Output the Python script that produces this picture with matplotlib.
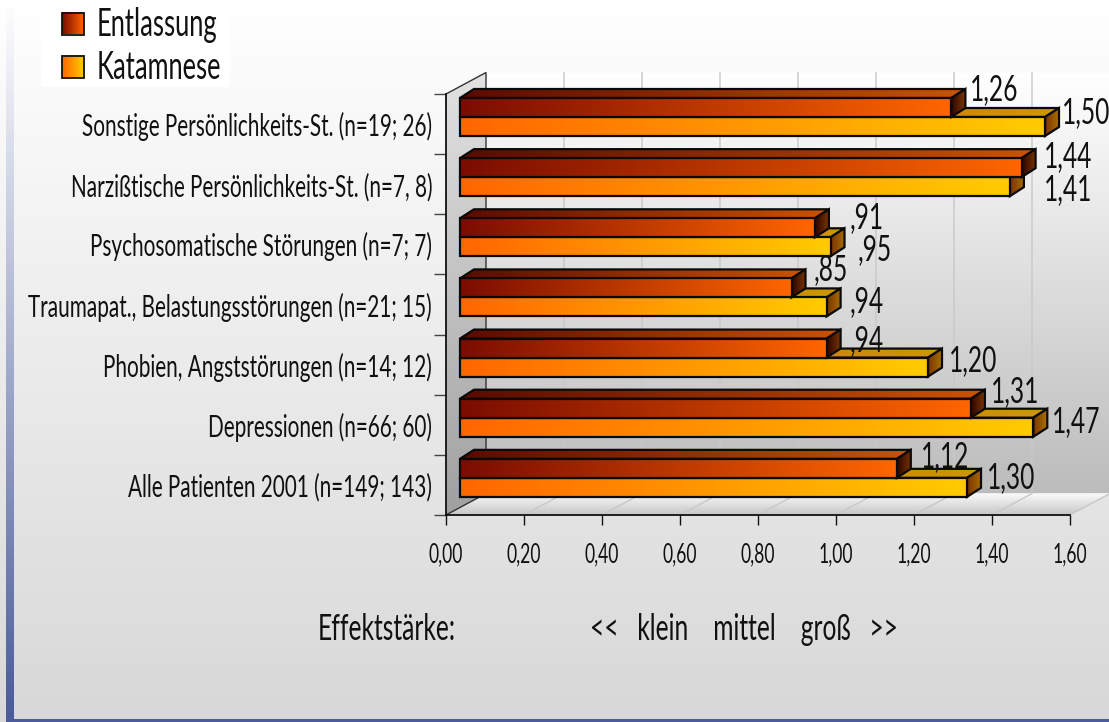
import numpy as np
import matplotlib
matplotlib.use("Agg")
import matplotlib.pyplot as plt
from matplotlib import font_manager as fm
from matplotlib.patches import Polygon, Rectangle
from matplotlib.colors import LinearSegmentedColormap as LSC

categories = ["Sonstige Persönlichkeits-St. (n=19; 26)",
              "Narzißtische Persönlichkeits-St. (n=7, 8)",
              "Psychosomatische Störungen (n=7; 7)",
              "Traumapat., Belastungsstörungen (n=21; 15)",
              "Phobien, Angststörungen (n=14; 12)",
              "Depressionen (n=66; 60)",
              "Alle Patienten 2001 (n=149; 143)"]
entlassung = [1.26, 1.44, 0.91, 0.85, 0.94, 1.31, 1.12]
katamnese = [1.50, 1.41, 0.95, 0.94, 1.20, 1.47, 1.30]
labels_e = ["1,26", "1,44", ",91", ",85", ",94", "1,31", "1,12"]
labels_k = ["1,50", "1,41", ",95", ",94", "1,20", "1,47", "1,30"]
xticks = [0.0, 0.2, 0.4, 0.6, 0.8, 1.0, 1.2, 1.4, 1.6]
xticklabels = ["0,00", "0,20", "0,40", "0,60", "0,80", "1,00", "1,20", "1,40", "1,60"]

# label offsets from the bar end (pixels)
off_e = [(19, 17), (22, 10), (35, 9), (22, 17), (23, 7), (20, 16), (24, 11)]
off_k = [(17, 13), (34, -4), (27, -4), (23, 4), (21, 6), (19, 5), (20, 9)]

W, H = 1109, 722
NARROW = 0.68


def make_narrow_font(scale):
    """Write a horizontally condensed copy of an installed sans font."""
    from fontTools.ttLib import TTFont
    from fontTools.ttLib.tables._g_l_y_f import GlyphCoordinates
    cands = []
    for f in fm.fontManager.ttflist:
        w = f.weight if isinstance(f.weight, int) else 400
        if f.style == "normal" and f.fname.lower().endswith(".ttf"):
            for rank, nm in enumerate(["Lato", "Roboto", "Open Sans", "Liberation Sans"]):
                if f.name == nm:
                    cands.append((rank, abs(w - 400), f.fname))
    for _, _, path in sorted(cands):
        try:
            font = TTFont(path)
            if "glyf" not in font:
                continue
            glyf = font["glyf"]
            for name in glyf.keys():
                g = glyf[name]
                if g.isComposite():
                    for c in g.components:
                        c.x = int(round(c.x * scale))
                elif g.numberOfContours > 0:
                    g.coordinates = GlyphCoordinates([(int(round(x * scale)), y) for x, y in g.coordinates])
                    if hasattr(g, "program"):
                        g.program.fromBytecode(b"")
            for name in glyf.keys():
                g = glyf[name]
                if g.numberOfContours != 0:
                    g.recalcBounds(glyf)
            hmtx = font["hmtx"]
            for name, (adv, lsb) in list(hmtx.metrics.items()):
                hmtx.metrics[name] = (int(round(adv * scale)), int(round(lsb * scale)))
            for tag in ["gvar", "fvar", "HVAR", "MVAR", "STAT", "avar", "GPOS", "GSUB", "GDEF",
                        "fpgm", "prep", "cvt ", "kern", "hdmx", "VDMX", "LTSH", "DSIG", "cvar"]:
                if tag in font:
                    del font[tag]
            for rec in font["name"].names:
                if rec.nameID in (1, 16, 4, 6):
                    rec.string = "ChartNarrow"
                elif rec.nameID in (2, 17):
                    rec.string = "Regular"
            font.save("chartnarrow.ttf")
            fm.fontManager.addfont("chartnarrow.ttf")
            return "ChartNarrow"
        except Exception:
            continue
    return "DejaVu Sans"


FONTNAME = make_narrow_font(NARROW)
plt.rcParams["font.family"] = [FONTNAME, "DejaVu Sans"]
INK = "#111111"

fig = plt.figure(figsize=(W / 100, H / 100), dpi=100)

# page background, in pixel coordinates
bg = fig.add_axes([0, 0, 1, 1], zorder=0)
bg.set_xlim(0, W); bg.set_ylim(H, 0); bg.axis("off")
cm_bg = LSC.from_list("bg", ["#ffffff", "#d8d8d8"])
bg.imshow(np.linspace(0, 1, 256)[:, None], cmap=cm_bg, extent=(0, W, H, 0), aspect="auto", origin="upper")
cm_st = LSC.from_list("st", ["#ffffff", "#4a5a9a"])
bg.imshow(np.linspace(0, 1, 256)[:, None], cmap=cm_st, extent=(6, 14, H, 0), aspect="auto", origin="upper")
bg.add_patch(Rectangle((6, 718.5), W, 4, fc="#4a5a9a", ec="none"))
bg.set_xlim(0, W); bg.set_ylim(H, 0)

# legend, pixel coordinates
bg.add_patch(Rectangle((41, 0), 189, 87, fc="white", ec="none"))
def swatch(y, c0, c1):
    bg.imshow(np.linspace(0, 1, 64)[None, :], cmap=LSC.from_list("s", [c0, c1]),
              extent=(62, 84, y + 22, y), aspect="auto", zorder=3)
    bg.add_patch(Rectangle((62, y), 22, 22, fc="none", ec="#111111", lw=1.3, zorder=4))
swatch(12.5, "#7a0c00", "#ff6600")
swatch(55.5, "#ff6600", "#ffcc00")
bg.set_xlim(0, W); bg.set_ylim(H, 0)
bg.text(97, 25, "Entlassung", fontsize=27, va="center", ha="left", color=INK)
bg.text(97, 68, "Katamnese", fontsize=27, va="center", ha="left", color=INK)
bg.text(318, 630, "Effektstärke:", fontsize=26, va="center", ha="left", color=INK)
bg.text(590, 630, "<<   klein    mittel    groß   >>", fontsize=26, va="center", ha="left", color=INK)

# chart axes: front plane of the 3D box
L, R, T, B = 446, 1070, 94, 515
ax = fig.add_axes([L / W, 1 - B / H, (R - L) / W, (B - T) / H], zorder=1)
ax.patch.set_alpha(0)
xlim = (0, 1.6); ylim = (0, 7)
px = (R - L) / 1.6      # pixels per value
py = (B - T) / 7        # pixels per category
ax.set_xlim(*xlim); ax.set_ylim(*ylim)
for s in ("top", "right"):
    ax.spines[s].set_visible(False)
for s in ("left", "bottom"):
    ax.spines[s].set_linewidth(1.3); ax.spines[s].set_color("#111111")
    ax.spines[s].set_zorder(30)
ax.set_xticks(xticks); ax.set_xticklabels(xticklabels, fontsize=18.5, color=INK)
ax.tick_params(axis="x", length=7, width=1, pad=13, color="#111111")
n = len(categories)
ax.set_yticks([n - 0.5 - i for i in range(n)])
ax.set_yticklabels(categories, fontsize=22, color=INK)
ax.set_yticks(range(n + 1), minor=True)
ax.tick_params(axis="y", which="major", length=0, pad=10)
ax.tick_params(axis="y", which="minor", length=9, width=1, color="#444444")

def grad_poly(pts, c0, c1, vertical=False, z=2, edge=True, lw=1.6):
    pts = np.array(pts, float)
    x0, y0 = pts.min(axis=0); x1, y1 = pts.max(axis=0)
    cm = LSC.from_list("g", [c0, c1])
    arr = np.linspace(0, 1, 256)[:, None] if vertical else np.linspace(0, 1, 256)[None, :]
    im = ax.imshow(arr, cmap=cm, extent=(x0, x1, y0, y1), origin="upper" if vertical else "lower",
                   aspect="auto", zorder=z, interpolation="bilinear")
    clip = Polygon(pts, closed=True, transform=ax.transData, fc="none", ec="none")
    ax.add_patch(clip)
    clip.set_clip_on(False)
    im.set_clip_path(clip)
    im.set_clip_box(fig.bbox)
    if edge:
        ax.add_patch(Polygon(pts, closed=True, fc="none", ec="#0a0a0a", lw=lw, zorder=z + 0.1,
                             clip_on=False, joinstyle="miter"))
    return im

WDX, WDY = 40 / px, 21.5 / py   # depth of the box
BDX, BDY = 14 / px, 9 / py      # depth of a bar
# walls
grad_poly([(WDX, WDY), (1.6 + WDX, WDY), (1.6 + WDX, 7 + WDY), (WDX, 7 + WDY)],
          "#ffffff", "#bcbcbc", vertical=True, z=1, edge=False)
grad_poly([(0, 0), (WDX, WDY), (WDX, 7 + WDY), (0, 7)], "#e2e2e2", "#a0a0a0",
          vertical=True, z=1.2, edge=False)
grad_poly([(0, 0), (1.6, 0), (1.6 + WDX, WDY), (WDX, WDY)], "#fbfbfb", "#c6c6c6",
          vertical=True, z=1.2, edge=False)
for t in xticks[1:]:
    ax.plot([t, t + WDX, t + WDX], [0, WDY, 7 + WDY], color="#c8c8c8", lw=1, zorder=1.5, clip_on=False)
ax.plot([0, WDX, WDX], [7, 7 + WDY, WDY], color="#333333", lw=1, zorder=1.6, clip_on=False)
ax.plot([0, WDX], [0, WDY], color="#333333", lw=1, zorder=1.6, clip_on=False)

# bars
h = 19 / py
START = 14 / px
def bar(v, top, front, side, topf, z):
    x0, x1 = START, START + v
    y0, y1 = top - h, top
    grad_poly([(x0, y1), (x1, y1), (x1 + BDX, y1 + BDY), (x0 + BDX, y1 + BDY)], topf[0], topf[1], z=z)
    grad_poly([(x1, y0), (x1 + BDX, y0 + BDY), (x1 + BDX, y1 + BDY), (x1, y1)], side[0], side[1], z=z + 0.2)
    grad_poly([(x0, y0), (x1, y0), (x1, y1), (x0, y1)], front[0], front[1], z=z + 0.4)

for i in range(n):
    slot_top = n - i
    te = slot_top - 4 / py
    tk = te - h
    zb = 3 + i
    bar(katamnese[i], tk, ("#ff6600", "#ffcc00"), ("#7a3300", "#a87000"), ("#c84e00", "#cc9900"), zb)
    bar(entlassung[i], te, ("#7a0c00", "#ff6600"), ("#2c0500", "#7a3500"), ("#5a0a00", "#cc5200"), zb + 0.5)
    ax.annotate(labels_e[i], (START + entlassung[i], te - h / 2), xytext=off_e[i],
                textcoords="offset pixels", fontsize=26, va="center", ha="left", color=INK,
                zorder=40, annotation_clip=False)
    ax.annotate(labels_k[i], (START + katamnese[i], tk - h / 2), xytext=off_k[i],
                textcoords="offset pixels", fontsize=26, va="center", ha="left", color=INK,
                zorder=40, annotation_clip=False)
ax.set_xlim(*xlim); ax.set_ylim(*ylim)

fig.savefig("out.png", dpi=100)
